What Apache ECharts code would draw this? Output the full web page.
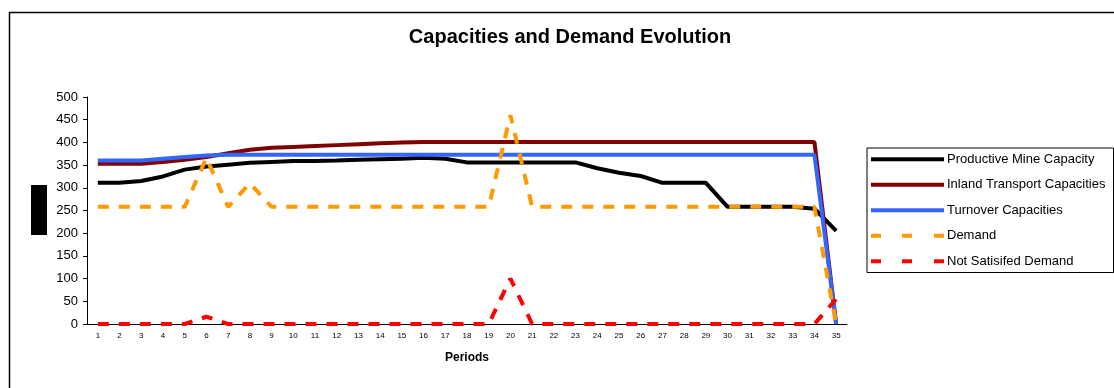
<!DOCTYPE html>
<html>
<head>
<meta charset="utf-8">
<script src="https://cdn.jsdelivr.net/npm/echarts@6/dist/echarts.min.js"></script>
<style>
  html, body { margin: 0; padding: 0; background: #fff; }
  #chart { width: 1114px; height: 388px; }
</style>
</head>
<body>
<div id="chart"></div>
<script>
var periods = [];
for (var i = 1; i <= 35; i++) periods.push(String(i));

var mineCapacity = [311, 311, 315, 325, 340, 347, 351, 355, 357, 359, 359, 360, 362, 363, 364, 366, 364, 356, 356, 356,
  356, 356, 356, 343, 333, 326, 311, 311, 311, 258, 258, 258, 258, 254, 205];
var inlandCapacity = [353, 353, 353, 357, 362, 368, 376, 384, 388, 390, 392, 394, 396, 398, 400, 401, 401, 401, 401, 401,
  401, 401, 401, 401, 401, 401, 401, 401, 401, 401, 401, 401, 401, 401, 0];
var turnoverCapacity = [360, 360, 360, 364, 368, 371, 373, 373, 373, 373, 373, 373, 373, 373, 373, 373, 373, 373, 373, 373,
  373, 373, 373, 373, 373, 373, 373, 373, 373, 373, 373, 373, 373, 373, 0];
var demand = [258, 258, 258, 258, 258, 366, 258, 310, 258, 258, 258, 258, 258, 258, 258, 258, 258, 258, 258, 460,
  258, 258, 258, 258, 258, 258, 258, 258, 258, 258, 258, 258, 258, 258, 0];
var notSatisfied = [0, 0, 0, 0, 0, 16, 0, 0, 0, 0, 0, 0, 0, 0, 0, 0, 0, 0, 0, 100,
  0, 0, 0, 0, 0, 0, 0, 0, 0, 0, 0, 0, 0, 0, 55];

var font = 'Liberation Sans, Arial, sans-serif';
var solidIcon = 'path://M0,0h73v4h-73z';
var dashIcon = 'path://M0,0h10v4h-10z M31,0h10v4h-10z M63,0h10v4h-10z';
var chart = echarts.init(document.getElementById('chart'));

function lineSeries(name, data, color, dashed) {
  return {
    name: name,
    type: 'line',
    data: data,
    symbol: 'none',
    animation: false,
    itemStyle: { color: color },
    lineStyle: { color: color, width: 4, type: dashed ? [11, 10] : 'solid' }
  };
}

chart.setOption({
  animation: false,
  title: {
    text: 'Capacities and Demand Evolution',
    left: 565,
    top: 22,
    textAlign: 'center',
    textStyle: { fontFamily: font, fontSize: 20, fontWeight: 'bold', color: '#000' }
  },
  graphic: [
    { type: 'rect', left: 7, top: 10, shape: { width: 1120, height: 400 },
      style: { fill: 'none', stroke: '#000', lineWidth: 1.5 } },
    { type: 'rect', left: 31, top: 185, shape: { width: 16, height: 50 },
      style: { fill: '#000' } }
  ],
  legend: {
    orient: 'vertical',
    left: 867,
    top: 148,
    itemWidth: 73,
    itemHeight: 4,
    itemGap: 11,
    padding: [4, 8, 4, 4],
    borderColor: '#000',
    borderWidth: 1,
    textStyle: { fontFamily: font, fontSize: 13, lineHeight: 14.5, color: '#000', padding: [0, 0, 0, -2] },
    data: [
      { name: 'Productive Mine Capacity', icon: solidIcon },
      { name: 'Inland Transport Capacities', icon: solidIcon },
      { name: 'Turnover Capacities', icon: solidIcon },
      { name: 'Demand', icon: dashIcon },
      { name: 'Not Satisifed Demand', icon: dashIcon }
    ]
  },
  grid: { left: 87, right: 267, top: 97, bottom: 64 },
  xAxis: {
    type: 'category',
    data: periods,
    boundaryGap: true,
    name: 'Periods',
    nameLocation: 'middle',
    nameGap: 28,
    nameTextStyle: { fontFamily: font, fontSize: 12, fontWeight: 'bold', color: '#000' },
    axisLine: { lineStyle: { color: '#000', width: 1 } },
    axisTick: { length: 4, lineStyle: { color: '#000' } },
    axisLabel: { fontFamily: font, fontSize: 8, color: '#000', margin: 8, interval: 0 },
    splitLine: { show: false }
  },
  yAxis: {
    type: 'value',
    min: 0,
    max: 500,
    interval: 50,
    axisLine: { show: true, lineStyle: { color: '#000', width: 1 } },
    axisTick: { show: true, length: 4, lineStyle: { color: '#000' } },
    axisLabel: { fontFamily: font, fontSize: 13, color: '#000', margin: 9 },
    splitLine: { show: false }
  },
  series: [
    lineSeries('Productive Mine Capacity', mineCapacity, '#000000', false),
    lineSeries('Inland Transport Capacities', inlandCapacity, '#800000', false),
    lineSeries('Turnover Capacities', turnoverCapacity, '#3366FF', false),
    lineSeries('Demand', demand, '#FF9900', true),
    lineSeries('Not Satisifed Demand', notSatisfied, '#FF0000', true)
  ]
});
</script>
</body>
</html>
